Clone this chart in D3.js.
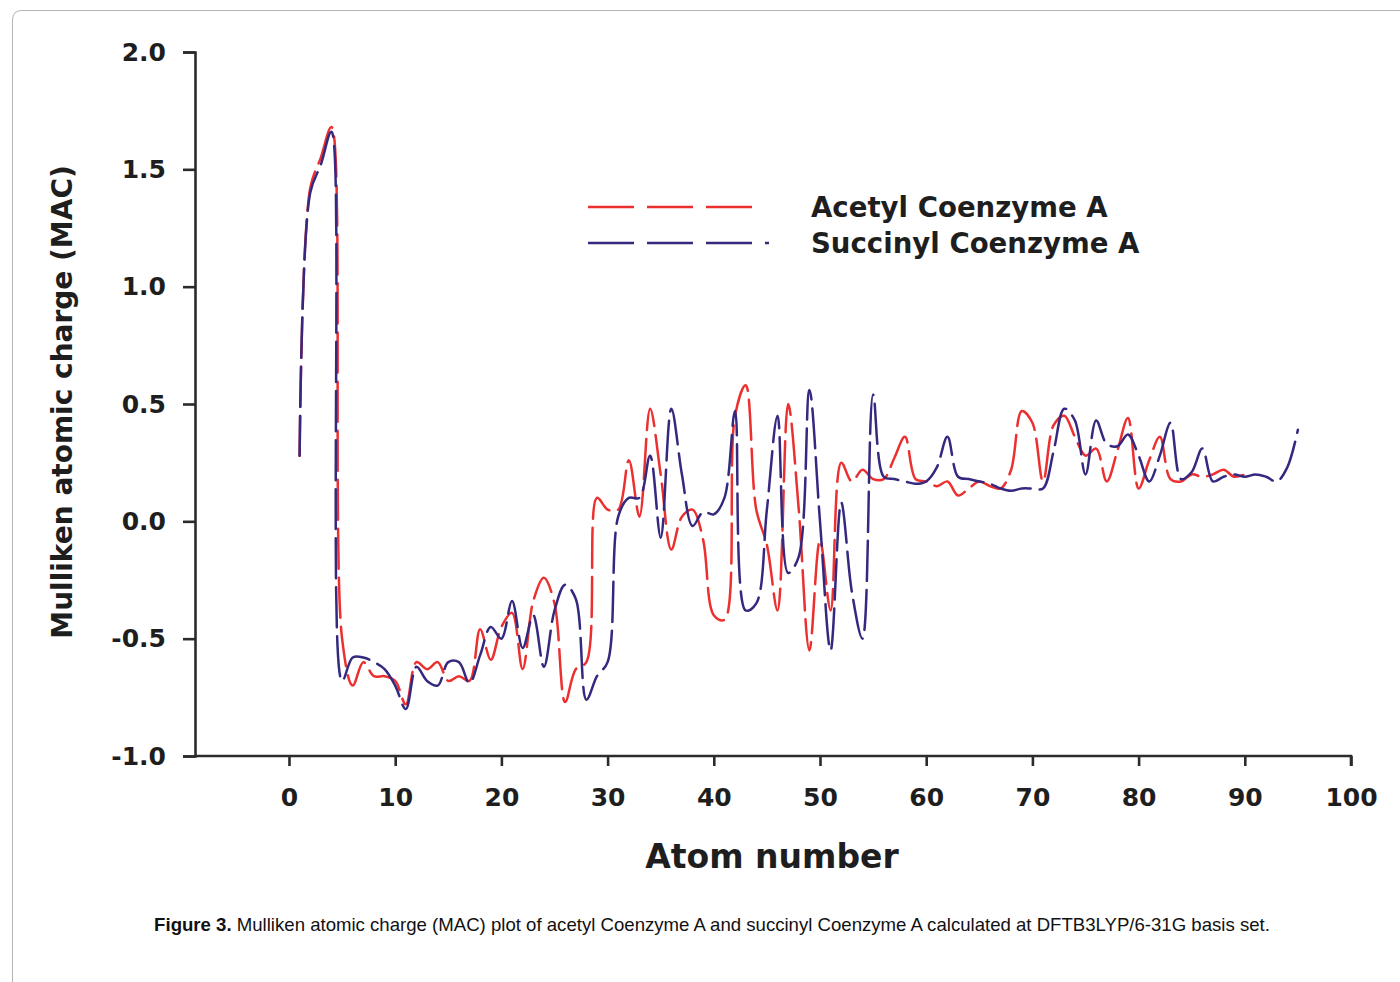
<!DOCTYPE html>
<html>
<head>
<meta charset="utf-8">
<script src="https://cdn.jsdelivr.net/npm/d3@7"></script>
<style>
  body { margin: 0; background: #fff; }
  svg { display: block; }
</style>
</head>
<body>
<div id="chart"></div>
<script>
// Mulliken atomic charge per atom
const acetylAtoms = d3.range(1, 91);
const acetylMAC = [
  0.28, 1.42, 1.55, 1.68, -0.50, -0.70, -0.60, -0.66, -0.66, -0.68,
  -0.78, -0.60, -0.63, -0.60, -0.68, -0.66, -0.68, -0.46, -0.59, -0.45,
  -0.39, -0.63, -0.34, -0.24, -0.35, -0.77, -0.63, -0.60, 0.10, 0.05,
  0.05, 0.26, 0.02, 0.48, 0.20, -0.12, 0.02, 0.05, -0.08, -0.40,
  -0.42, 0.45, 0.58, 0.05, -0.10, -0.38, 0.50, 0.05, -0.55, -0.08,
  -0.38, 0.25, 0.17, 0.22, 0.18, 0.18, 0.27, 0.36, 0.18, 0.17,
  0.15, 0.17, 0.11, 0.14, 0.17, 0.15, 0.14, 0.22, 0.47, 0.42,
  0.17, 0.41, 0.45, 0.36, 0.28, 0.31, 0.17, 0.30, 0.44, 0.14,
  0.26, 0.36, 0.18, 0.17, 0.20, 0.19, 0.20, 0.22, 0.19, 0.20
];

const succinylAtoms = d3.range(1, 96);
const succinylMAC = [
  0.28, 1.40, 1.52, 1.66, -0.68, -0.58, -0.58, -0.60, -0.63, -0.70,
  -0.80, -0.62, -0.68, -0.70, -0.60, -0.60, -0.69, -0.57, -0.45, -0.50,
  -0.34, -0.54, -0.40, -0.62, -0.38, -0.27, -0.33, -0.76, -0.66, -0.60,
  0.02, 0.10, 0.10, 0.28, -0.07, 0.48, 0.20, -0.02, 0.04, 0.03,
  0.10, 0.47, -0.38, -0.35, 0.05, 0.45, -0.22, -0.15, 0.56, 0.00,
  -0.55, 0.08, -0.30, -0.50, 0.54, 0.19, 0.18, 0.17, 0.16, 0.17,
  0.23, 0.36, 0.19, 0.18, 0.17, 0.16, 0.14, 0.13, 0.14, 0.14,
  0.14, 0.30, 0.48, 0.43, 0.20, 0.43, 0.33, 0.32, 0.37, 0.28,
  0.17, 0.28, 0.42, 0.18, 0.21, 0.31, 0.17, 0.19, 0.20, 0.19,
  0.20, 0.19, 0.17, 0.23, 0.39
];

const seriesNames = ["Acetyl Coenzyme A", "Succinyl Coenzyme A"];
const seriesColors = ["#ec2f2f", "#34297f"];
const xTicks = [0, 10, 20, 30, 40, 50, 60, 70, 80, 90, 100];
const yTicks = [-1.0, -0.5, 0.0, 0.5, 1.0, 1.5, 2.0];

const W = 1400, H = 982;
const svg = d3.select("#chart").append("svg")
  .attr("width", W).attr("height", H);

// figure frame (only top and left edges are in view)
svg.append("path")
  .attr("d", "M12.5,990 L12.5,20 Q12.5,10.5 22,10.5 L1410,10.5")
  .attr("fill", "none")
  .attr("stroke", "#b4b4b4")
  .attr("stroke-width", 1);

const x = d3.scaleLinear().domain([-8.85, 100]).range([195, 1351]);
const y = d3.scaleLinear().domain([-1, 2]).range([756, 52]);

const font = "'DejaVu Sans', Verdana, sans-serif";
const axisColor = "#2b2b2b";

// y axis
const yAxis = svg.append("g")
  .attr("transform", "translate(195,0)")
  .call(d3.axisLeft(y).tickValues(yTicks).tickFormat(d => d.toFixed(1)).tickSize(12).tickPadding(17));
// x axis
const xAxis = svg.append("g")
  .attr("transform", "translate(0,756)")
  .call(d3.axisBottom(x).tickValues(xTicks).tickSize(10).tickPadding(22));

[yAxis, xAxis].forEach(g => {
  g.select(".domain").attr("stroke", axisColor).attr("stroke-width", 2.6);
  g.selectAll(".tick line").attr("stroke", axisColor).attr("stroke-width", 2.6);
  g.selectAll(".tick text")
    .attr("fill", "#1e1e1e")
    .style("font-family", font)
    .style("font-weight", "bold")
    .style("font-size", "25px");
});
xAxis.select(".domain").attr("d", "M195,0H1351V10");

// axis titles
svg.append("text")
  .attr("x", 772).attr("y", 868)
  .attr("text-anchor", "middle")
  .style("font-family", font).style("font-weight", "bold").style("font-size", "33px")
  .attr("fill", "#1e1e1e")
  .text("Atom number");

svg.append("text")
  .attr("transform", "translate(72,402) rotate(-90)")
  .attr("text-anchor", "middle")
  .style("font-family", font).style("font-weight", "bold").style("font-size", "28px")
  .attr("fill", "#1e1e1e")
  .text("Mulliken atomic charge (MAC)");

// lines
const line = d3.line()
  .x(d => x(d[0]))
  .y(d => y(d[1]))
  .curve(d3.curveCatmullRom.alpha(0.5));

const series = [
  d3.zip(acetylAtoms, acetylMAC),
  d3.zip(succinylAtoms, succinylMAC)
];

series.forEach((s, i) => {
  svg.append("path")
    .datum(s)
    .attr("d", line)
    .attr("fill", "none")
    .attr("stroke", seriesColors[i])
    .attr("stroke-width", 2.5)
    .attr("stroke-dasharray", "40,9")
    .attr("stroke-linecap", "round");
});

// legend
const legend = svg.append("g").attr("transform", "translate(588,207)");
seriesNames.forEach((name, i) => {
  const row = legend.append("g").attr("transform", `translate(0,${i * 36})`);
  row.append("line")
    .attr("x1", 0).attr("x2", i === 0 ? 165 : 181)
    .attr("y1", 0).attr("y2", 0)
    .attr("stroke", seriesColors[i])
    .attr("stroke-width", 2.6)
    .attr("stroke-dasharray", "46,13");
  row.append("text")
    .attr("x", 223).attr("y", 10)
    .style("font-family", font).style("font-weight", "bold").style("font-size", "27.6px")
    .attr("fill", "#1e1e1e")
    .text(name);
});

// caption
const caption = svg.append("text")
  .attr("x", 712).attr("y", 931)
  .attr("text-anchor", "middle")
  .style("font-family", "'Liberation Sans', Arial, sans-serif")
  .style("font-size", "18.6px")
  .attr("fill", "#111");
caption.append("tspan").style("font-weight", "bold").text("Figure 3.");
caption.append("tspan").text(" Mulliken atomic charge (MAC) plot of acetyl Coenzyme A and succinyl Coenzyme A calculated at DFTB3LYP/6-31G basis set.");
</script>
</body>
</html>
